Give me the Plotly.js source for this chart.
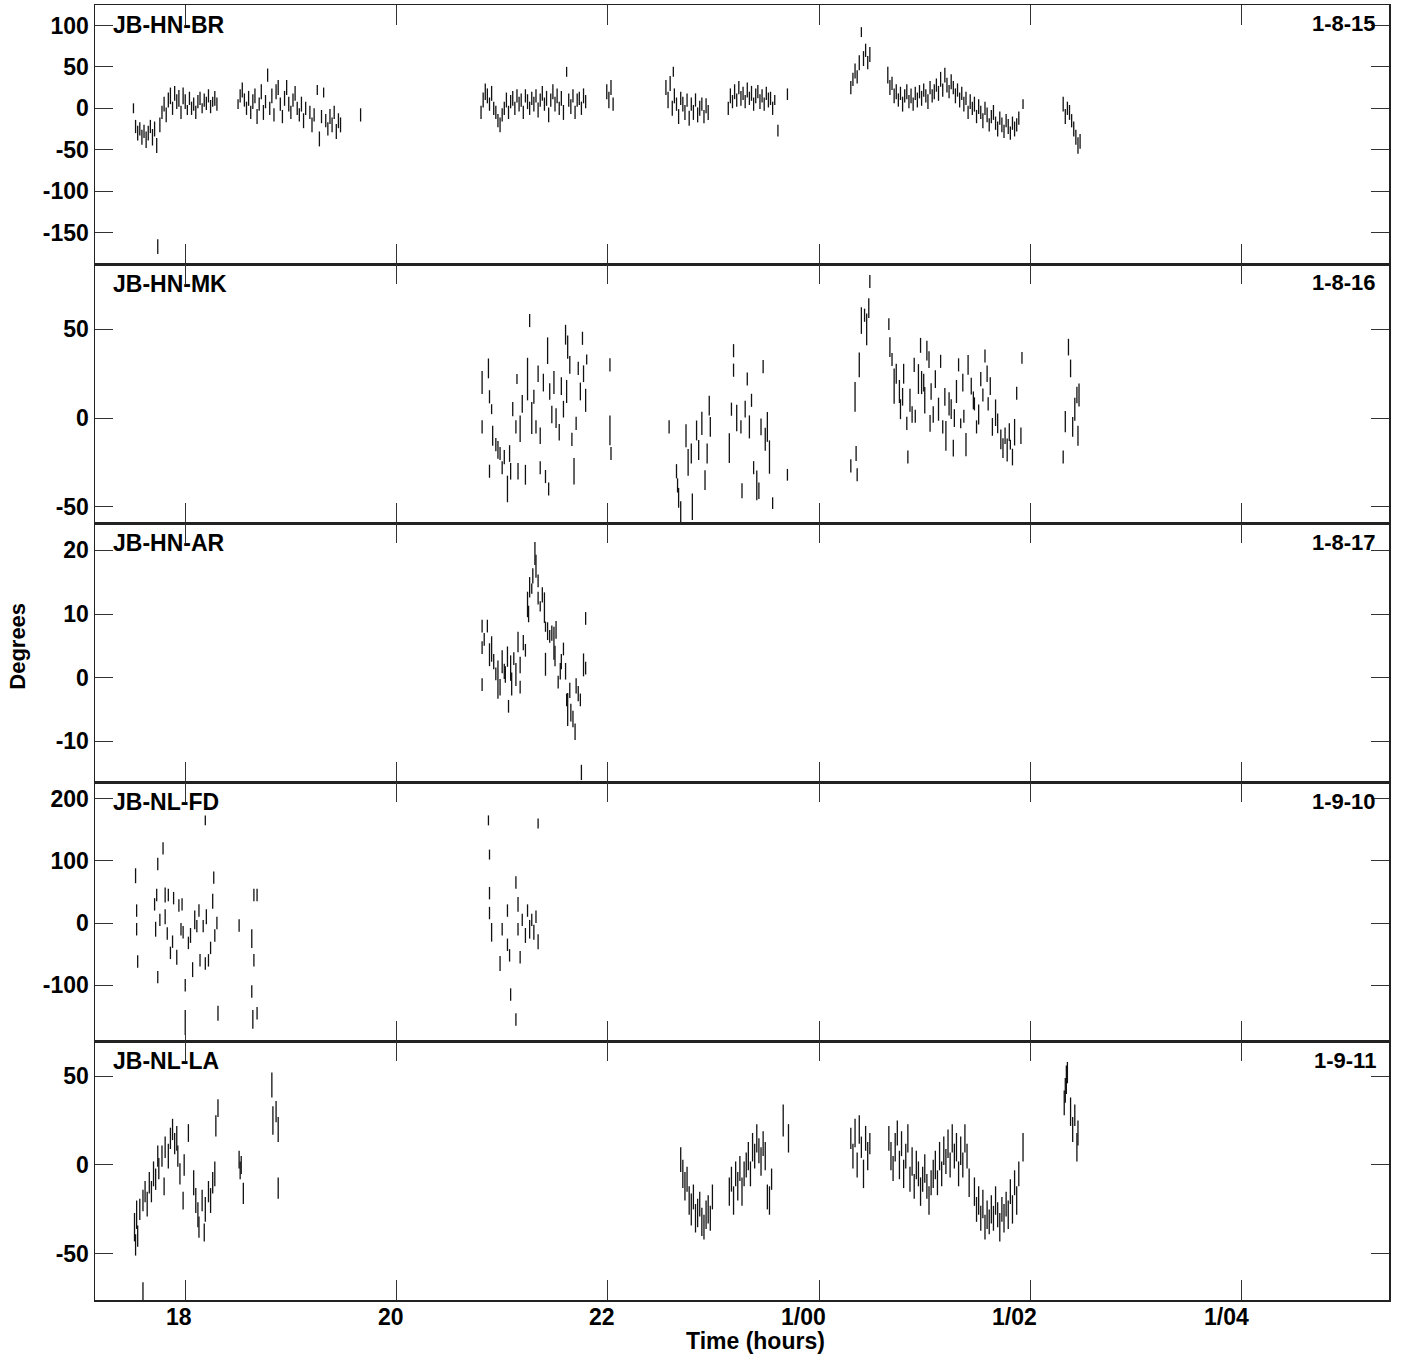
<!DOCTYPE html>
<html>
<head>
<meta charset="utf-8">
<script src="https://cdn.plot.ly/plotly-3.0.1.min.js"></script>
<style>html,body{margin:0;padding:0;background:#fff}#chart{width:1404px;height:1357px}</style>
</head>
<body>
<div id="chart"></div>
<script>
// ---- tick labels / categories ----
const xTickVals = [18, 20, 22, 24, 26, 28];
const xTickText = ['18', '20', '22', '1/00', '1/02', '1/04'];
const yTickVals = [
  [-150, -100, -50, 0, 50, 100],
  [-50, 0, 50],
  [-10, 0, 10, 20],
  [-100, 0, 100, 200],
  [-50, 0, 50]
];
const baselineNames = ['JB-HN-BR', 'JB-HN-MK', 'JB-HN-AR', 'JB-NL-FD', 'JB-NL-LA'];
const baselineIds = ['1-8-15', '1-8-16', '1-8-17', '1-9-10', '1-9-11'];

// ---- JB-HN-BR : time (h), phase (deg), error (deg) ----
const brTime = [
 17.51,17.53,17.55,17.57,17.59,17.61,17.63,17.65,17.67,17.69,17.71,17.73,17.74,17.76,17.78,17.80,17.82,17.84,17.86,17.88,17.90,17.92,17.94,17.96,17.98,18.00,18.02,18.04,18.06,18.08,18.10,18.12,18.14,18.16,18.18,18.20,18.22,18.24,18.26,18.28,18.30,
 18.50,18.52,18.54,18.56,18.58,18.60,18.62,18.64,18.66,18.68,18.70,18.72,18.74,18.76,18.78,18.80,18.82,18.84,18.86,18.88,18.90,18.92,18.94,18.96,18.98,19.00,19.02,19.04,19.06,19.08,19.10,19.12,19.14,
 19.18,19.20,19.22,19.25,19.27,19.29,19.31,19.33,19.35,19.37,19.39,19.41,19.43,19.45,19.47, 19.66,
 20.80,20.82,20.84,20.86,20.88,20.90,20.92,20.94,20.96,20.98,21.00,21.02,21.04,21.06,21.08,21.10,21.12,21.14,21.16,21.18,21.20,21.22,21.24,21.26,21.28,21.30,21.32,21.34,21.36,21.38,21.40,21.42,21.44,21.46,21.48,21.50,21.52,21.54,21.56,21.58,
 21.61, 21.63,21.65,21.67,21.69,21.71,21.73,21.75,21.77,21.79,
 21.99,22.01,22.03,22.05,
 22.55,22.57,22.59,22.61,22.63,22.65,22.67,22.69,22.71,22.73,22.75,22.77,22.79,22.81,22.83,22.85,22.87,22.89,22.91,22.93,22.95, 22.62,
 23.14,23.16,23.18,23.20,23.22,23.24,23.26,23.28,23.30,23.32,23.34,23.36,23.38,23.40,23.42,23.44,23.46,23.48,23.50,23.52,23.54,23.56,23.58, 23.61,23.70,
 24.30,24.32,24.34,24.36,24.38,24.40,24.42,24.44,24.46,24.48,
 24.65,24.67,24.69,24.71,24.73,24.75,24.77,24.79,24.81,24.83,24.85,24.87,24.89,24.91,24.93,24.95,24.97,24.99,25.01,25.03,25.05,25.07,25.09,25.11,25.13,25.15,25.17,25.19,25.21,25.23,25.25,25.27,25.29,25.31,25.33,25.35,25.37,25.39,25.41,25.43,25.45,25.47,25.49,25.51,25.53,25.55,25.57,25.59,25.61,25.63,25.65,25.67,25.69,25.71,25.73,25.75,25.77,25.79,25.81,25.83,25.85,25.87,25.89, 25.93,
 26.31,26.33,26.35,26.37,26.39,26.41,26.43,26.45,26.47
];
const brPhase = [
 0,-22,-30,-25,-35,-28,-38,-30,-22,-35,-25,-45,-167,-20,-5,5,-8,10,15,0,18,8,12,-5,15,8,-2,12,0,5,-5,8,12,0,10,6,15,2,8,12,5,
 5,15,22,10,0,12,-5,8,15,-10,5,20,-5,8,40,0,15,-8,20,25,5,-10,12,25,5,-5,10,18,0,-8,5,-15,0,
 -5,-20,-8,22,-37,-10,19,-15,-25,-10,-20,-5,-28,-15,-20, -8,
 -5,10,20,15,5,18,0,-5,-15,-20,-8,0,10,-5,8,12,0,15,5,10,-5,15,8,0,12,5,15,-2,10,18,5,12,-8,10,20,5,15,0,12,-5,
 44, 10,2,15,-5,10,12,0,15,8,
 20,10,25,5,
 25,10,30,0,15,5,-10,12,5,-5,10,-12,5,-5,10,-8,0,5,-10,3,-5, 44,
 0,15,8,20,10,25,12,18,8,22,12,18,5,15,20,8,15,5,18,10,12,0,10, -27,17,
 25,35,45,38,55,92,60,70,55,65,
 40,25,30,15,20,10,18,5,15,20,8,15,5,18,10,20,12,22,15,8,25,15,20,28,18,35,22,40,28,20,32,25,15,22,10,18,5,12,-5,8,0,5,-10,2,-5,-15,0,-8,-20,-10,-5,-18,-25,-12,-20,-28,-15,-22,-30,-18,-25,-20,-12, 5,
 5,-10,0,-5,-15,-25,-35,-45,-40
];
const brErr = [
 6,8,9,8,9,8,10,9,8,10,9,9,9,9,8,9,9,9,10,8,9,9,10,8,10,9,6,8,8,8,8,8,8,6,8,8,8,8,6,9,8,
 6,8,9,8,8,9,8,9,9,9,8,9,9,8,8,8,9,8,9,9,8,8,9,9,9,8,8,9,8,8,9,9,8,
 8,9,8,6,9,8,6,8,8,9,9,8,9,9,9, 8,
 8,9,10,9,8,9,8,8,8,9,8,8,9,8,8,9,8,8,9,8,8,8,9,8,8,9,8,9,8,9,8,9,9,8,9,9,9,8,9,9,
 6, 8,9,8,8,8,8,8,9,8,
 9,10,9,8,
 9,10,9,9,9,8,9,8,9,9,8,9,8,9,8,9,9,8,8,9,9, 6,
 8,9,8,9,8,8,9,8,8,9,8,9,8,9,8,9,8,8,8,9,8,8,6, 7,7,
 8,8,9,8,9,6,9,8,8,9,
 10,9,8,9,9,8,8,9,8,9,8,9,8,8,9,8,9,8,8,9,8,8,9,8,9,9,8,9,9,8,9,8,9,8,9,8,9,8,8,9,8,9,8,9,8,9,8,9,8,8,9,8,9,8,9,8,8,9,8,8,9,8,8, 6,
 9,9,8,9,8,9,9,10,9
];

// ---- JB-HN-MK ----
const mkTime = [
 20.81,20.81,20.87,20.88,20.88,20.90,20.91,20.94,20.96,20.98,21.00,21.02,21.05,21.07,21.08,21.10,21.13,21.14,21.15,21.17,21.19,21.22,21.24,21.26,21.28,21.30,21.32,21.34,21.36,21.36,21.39,21.41,21.43,21.44,21.45,21.47,21.49,21.51,21.54,21.56,21.58,21.60,21.61,21.62,21.64,21.66,21.68,21.70,21.72,21.74,21.76,21.77,21.79,21.80,
 22.02,22.02,22.03, 22.58,
 22.65,22.66,22.67,22.69,22.74,22.76,22.79,22.80,22.84,22.86,22.89,22.92,22.94,22.96,22.97,
 23.15,23.17,23.19,23.19,23.22,23.26,23.27,23.30,23.32,23.34,23.36,23.38,23.41,23.43,23.45,23.47,23.49,23.51,23.53,23.56,23.70,
 24.30,24.34,24.35,24.36,24.38,24.40,24.43,24.45,24.47,24.48,
 24.66,24.67,24.69,24.71,24.73,24.76,24.77,24.79,24.80,24.83,24.84,24.86,24.88,24.90,24.91,24.94,24.96,24.97,24.99,25.00,25.02,25.04,25.05,25.06,25.08,25.10,25.13,25.15,25.17,25.19,25.20,25.23,25.25,25.27,25.28,25.30,25.32,25.34,25.36,25.37,25.39,25.41,25.44,25.46,25.47,25.49,25.51,25.53,25.55,25.57,25.59,25.60,25.62,25.64,25.67,25.69,25.72,25.74,25.76,25.78,25.80,25.81,25.83,25.85,25.87,25.91,25.92,
 26.31,26.33,26.36,26.38,26.40,26.42,26.44,26.45,26.46
];
const mkPhase = [
 20,-5,28,12,-30,5,-10,-15,-18,-20,-28,-22,-40,-20,-30,5,-5,22,-30,-6,8,-32,22,55,0,12,-5,25,-28,-10,20,-33,38,-40,15,2,20,0,-8,18,5,47,15,40,30,-12,-30,-3,28,15,45,25,10,33,
 30,-7,-20, -5,
 -30,-38,-45,-55,-10,-25,-20,-50,-7,-18,-3,-35,-20,7,-5,
 -17,5,38,27,0,-5,-41,5,22,-5,10,-28,-38,-41,-5,29,-12,-5,-22,-48,-32,
 -27,12,-20,-32,30,55,58,50,62,77,
 53,40,33,18,25,15,5,12,25,-3,-22,10,2,30,1,22,41,20,20,10,38,33,-3,15,2,22,5,32,-5,12,-10,8,5,-17,0,15,30,-3,20,1,-15,30,18,10,8,-5,2,22,13,35,25,8,18,-5,3,-3,-12,-17,-10,-18,-8,-15,-22,-8,14,-10,34,
 -22,-2,40,28,-5,5,13,-10,13
];
const mkErr = [
 6.5,3.7,5.6,3.7,3.7,2.8,5.6,3.7,5,3.7,3.7,4,7.5,4.7,4.7,4,3.7,2.8,4.7,7.5,5,5.6,12,3.7,9,4,3.7,4.7,3.7,4.7,5,3.7,7.5,3.7,4.7,5,6.5,5.6,4.7,5,4.7,5.6,6.5,6.5,5,3.7,7.5,3.7,3.7,5,3.7,4.7,6.5,2.8,
 3.7,8.4,3.7, 3.7,
 4,4,5.6,8,6.5,7.5,5.6,7.5,5.6,5.6,6.5,5.6,5.6,5.6,5.6,
 8.4,3.7,3.7,3.7,7.5,3.7,4.2,4.7,3.7,6.5,3.7,3.7,8.4,4.7,4.7,3.7,6.5,8.4,9.4,3.3,3.3,
 3.7,8.4,4.2,3.7,7,7.5,3.7,9,5.6,3.7,
 3.3,5.6,3.7,10,5.6,6.5,5.6,5,5.6,3.7,3.7,6.5,4.7,4,3.7,8.4,4.2,6.5,5,7.5,5.6,4.7,4.7,4.7,4.7,5,6.5,3.7,3.7,5,8.4,6.5,5.6,4.7,5,6.5,3.7,2.8,5,3.7,6.5,5.6,4.7,5,3.7,3.7,5.6,4,3.7,3.7,4.7,3.7,5,5,7.5,5.6,5.6,5.6,4.7,6.5,5,2.8,4.7,7.5,3.7,4.7,3.3,
 3.7,6,4.7,5,5.6,6.5,4.7,5.6,6.5
];

// ---- JB-HN-AR ----
const arTime = [
 20.81,20.81,20.81,20.83,20.86,20.88,20.90,20.92,20.94,20.96,20.98,21.00,21.02,21.03,21.05,21.06,21.08,21.09,21.11,21.13,21.15,21.17,21.17,21.20,21.22,21.24,21.25,21.26,21.28,21.29,21.31,21.32,21.34,21.34,21.36,21.38,21.40,21.41,21.41,21.43,21.45,21.47,21.49,21.50,21.51,21.53,21.55,21.56,21.58,21.60,21.61,21.62,21.64,21.65,21.67,21.69,21.70,21.72,21.74,21.75,21.77,21.79,21.79
];
const arPhase = [
 8.1,4.7,-1.1,6,8.1,3.6,4.5,2.5,0.6,-0.3,-1.5,2.5,1,0.5,3.3,-4.5,1.5,-1,3,0.5,5.6,-1.5,2,5.5,4.3,11.5,10,14.2,14,16,19.5,17.5,15.2,12.5,11.2,13,11,2.1,8,7.3,6.5,7,5.4,3.4,7.5,-0.7,1,2.5,4.5,1,-3.5,-5,-2,-5.5,-6.5,-8.5,-1.3,-2.5,-3.5,-14.9,2,9.3,1.5
];
const arErr = [
 1,1,1,1,1,1.8,2,1.2,1,3,1.3,1.8,1.2,1.3,1.6,1,2,1.8,1,1.8,1.6,1,1.3,1.2,1,2,1.3,1.6,0.8,1.2,1.8,1.8,1,1,0.8,1.2,2.4,1.8,0.8,1.4,1,1.2,2.6,1.6,1.4,1,1.3,1.2,1,1.3,1,2.6,1.2,1.4,1.3,1.3,1.2,1.2,1,1.2,1.8,1,1
];

// ---- JB-NL-FD ----
const fdTime = [
 17.53,17.54,17.54,17.55,17.71,17.72,17.73,17.74,17.74,17.76,17.79,17.81,17.81,17.83,17.84,17.86,17.88,17.89,17.92,17.94,17.96,17.97,17.98,18.00,18.00,18.03,18.05,18.07,18.09,18.11,18.13,18.14,18.17,18.19,18.19,18.20,18.22,18.24,18.26,18.27,18.28,18.30,18.31,
 18.51,18.63,18.63,18.64,18.65,18.65,18.68,18.68,
 20.87,20.88,20.88,20.88,20.90,20.98,21.00,21.05,21.05,21.07,21.08,21.13,21.13,21.15,21.15,21.17,21.19,21.22,21.24,21.26,21.28,21.30,21.32,21.34,21.34
];
const fdPhase = [
 76,20,-10,-62,30,-10,45,95,-87,5,120,45,10,-17,45,-48,-30,40,-55,28,-10,30,-15,-100,-160,-32,-20,-75,5,-5,20,-60,-5,-65,165,10,-60,-40,35,73,-20,0,-145,
 -4,-25,-110,-155,45,-60,45,-145,
 165,110,48,16,-15,-65,-10,20,-35,-52,-115,65,-155,30,-10,-55,5,-20,20,-10,5,-15,10,160,-30
];
const fdErr = [
 12,10,10,10,10,12,10,10,10,10,10,12,12,10,10,10,10,10,12,10,10,10,10,10,20,10,12,12,15,10,10,10,10,10,8,12,10,10,12,10,10,10,12,
 10,15,10,15,10,10,10,10,
 8,8,10,10,15,12,10,10,10,10,10,10,10,12,10,10,10,12,10,15,10,12,10,8,12
];

// ---- JB-NL-LA ----
const laTime = [
 17.52,17.53,17.54,17.55,17.57,17.60,17.60,17.62,17.64,17.66,17.68,17.70,17.72,17.74,17.75,17.78,17.80,17.81,17.84,17.86,17.88,17.90,17.92,17.93,17.95,17.98,17.99,18.03,18.08,18.10,18.12,18.13,18.16,18.18,18.19,18.22,18.24,18.26,18.28,18.29,18.31,
 18.51,18.52,18.53,18.55,
 18.82,18.83,18.86,18.88,18.88,
 22.69,22.71,22.73,22.75,22.77,22.79,22.81,22.83,22.85,22.87,22.89,22.91,22.93,22.95,22.97,22.99,
 23.15,23.17,23.19,23.21,23.23,23.25,23.27,23.29,23.31,23.33,23.35,23.37,23.39,23.41,23.43,23.45,23.47,23.49,23.51,23.53,23.55, 23.66,23.71,
 24.30,24.32,24.34,24.36,24.38,24.40,24.42,24.44,24.46,24.48,
 24.66,24.68,24.70,24.72,24.74,24.76,24.78,24.80,24.82,24.84,24.86,24.88,24.90,24.92,24.94,24.96,24.98,25.00,25.02,25.04,25.06,25.08,
 25.10,25.12,25.14,25.16,25.18,25.20,25.22,25.24,25.26,25.28,25.30,25.32,25.34,25.36,25.38,25.40,25.42,
 25.47,25.49,25.51,25.53,25.55,25.57,25.59,25.61,25.63,25.65,25.67,25.69,25.71,25.73,25.75,25.77,25.79,25.81,25.83,25.85,25.87,25.89,25.93,
 26.32,26.33,26.34,26.35,26.38,26.40,26.42,26.44,26.45
];
const laPhase = [
 -35,-45,-28,-40,-25,-20,-72,-15,-22,-10,-15,-5,-8,5,-2,5,-12,10,5,15,20,12,15,5,-5,-20,0,18,-10,-20,-28,-35,-20,-38,-25,-15,-20,-10,-5,22,32,
 3,-3,0,-16,
 45,25,30,20,-13,
 3,-5,-12,-8,-20,-25,-18,-30,-27,-22,-32,-35,-28,-25,-30,-18,
 -15,-8,-20,-5,-12,-2,-15,-5,0,5,-5,10,5,15,8,2,12,5,-18,-20,-8, 25,15,
 15,5,18,0,20,10,-5,15,5,12,
 15,5,-2,10,18,0,12,-5,5,15,-8,2,-12,0,-5,-15,-8,-2,-12,-20,-10,-5,
 0,-10,5,-5,8,2,12,0,15,5,10,-5,8,0,15,5,-10,
 -15,-25,-20,-30,-22,-35,-28,-32,-25,-30,-20,-28,-35,-25,-30,-22,-28,-15,-25,-10,-20,-5,10,
 35,42,48,52,30,20,28,10,18
];
const laErr = [
 8,6,8,6,6,6,6,6,7,6,6,7,6,6,6,6,5,6,7,6,6,6,7,6,6,5,6,5,7,7,7,6,6,5,7,6,7,6,7,6,5,
 5,5,5,6,
 7,8,6,7,6,
 7,8,8,7,8,9,7,8,8,7,8,7,8,8,7,7,
 8,7,8,7,8,7,8,7,7,8,7,8,7,8,7,8,7,8,7,8,6, 9,8,
 6,7,8,7,8,6,8,7,8,6,
 7,8,7,8,7,8,7,8,7,8,7,8,7,8,7,8,7,8,7,8,7,8,
 8,7,8,7,8,7,8,7,8,7,8,7,8,7,8,7,8,
 8,7,8,7,8,7,8,7,8,7,8,7,8,7,8,7,8,7,8,7,8,7,8,
 7,7,8,6,8,7,6,8,7
];

// ---- build ----
const series = [
  {t: brTime, v: brPhase, e: brErr},
  {t: mkTime, v: mkPhase, e: mkErr},
  {t: arTime, v: arPhase, e: arErr},
  {t: fdTime, v: fdPhase, e: fdErr},
  {t: laTime, v: laPhase, e: laErr}
];
const yRanges = [[-188, 124.7], [-59.2, 86.9], [-16.4, 24.3], [-189.7, 226.7], [-76, 69.8]];
const xRange = [17.146, 29.394];

const FONT = 'Liberation Sans, Arial, Helvetica, sans-serif';
const axId = i => (i === 0 ? '' : String(i + 1));

const traces = series.map((s, i) => ({
  type: 'scatter', mode: 'markers',
  x: s.t, y: s.v,
  xaxis: 'x' + axId(i), yaxis: 'y' + axId(i),
  marker: {size: 1, color: 'rgba(0,0,0,0)'},
  error_y: {type: 'data', array: s.e, visible: true, width: 0, thickness: 1.3, color: '#111'},
  hoverinfo: 'skip', showlegend: false
}));

const layout = {
  width: 1404, height: 1357,
  margin: {l: 95, r: 15, t: 5, b: 57},
  paper_bgcolor: '#fff', plot_bgcolor: '#fff',
  showlegend: false,
  font: {family: FONT, size: 22, color: '#000'},
  annotations: []
};

for (let i = 0; i < 5; i++) {
  const id = axId(i);
  layout['xaxis' + id] = {
    range: xRange, tickvals: xTickVals,
    ticks: 'inside', ticklen: 20, tickwidth: 1, tickcolor: '#333',
    showline: true, linecolor: '#222', linewidth: 1.5, mirror: 'ticks',
    showgrid: false, zeroline: false, fixedrange: true,
    showticklabels: false,
    anchor: 'y' + id
  };
  layout['yaxis' + id] = {
    domain: [1 - (i + 1) / 5, 1 - i / 5],
    range: yRanges[i], tickvals: yTickVals[i], ticktext: yTickVals[i].map(v => String(v)),
    ticks: 'inside', ticklen: 18, tickwidth: 1, tickcolor: '#333',
    showline: true, linecolor: '#222', linewidth: 1.5, mirror: 'ticks',
    showgrid: false, zeroline: false, fixedrange: true,
    tickfont: {family: FONT, size: 23, color: '#000', weight: 'bold'},
    anchor: 'x' + id
  };
  layout.annotations.push({
    text: '<b>' + baselineNames[i] + '</b>', xref: 'paper', yref: 'y' + id + ' domain',
    x: 0.0125, y: 1 - 20 / 259, xanchor: 'left', yanchor: 'middle', showarrow: false,
    font: {family: FONT, size: 23, color: '#000'}
  });
  layout.annotations.push({
    text: '<b>' + baselineIds[i] + '</b>', xref: 'paper', yref: 'y' + id + ' domain',
    x: 0.9915, y: 1 - 19 / 259, xanchor: 'right', yanchor: 'middle', showarrow: false,
    font: {family: FONT, size: 22, color: '#000'}
  });
}
// x tick labels (AIPS style: right-aligned just past the tick)
xTickVals.forEach((v, k) => {
  layout.annotations.push({
    text: '<b>' + xTickText[k] + '</b>', xref: 'x5', yref: 'paper', x: v, y: -0.0135,
    xanchor: 'right', yanchor: 'middle', xshift: 9, showarrow: false,
    font: {family: FONT, size: 23, color: '#000'}
  });
});
layout.annotations.push({
  text: '<b>Degrees</b>', xref: 'paper', yref: 'paper', x: -0.0605, y: 0.505,
  xanchor: 'center', yanchor: 'middle', textangle: -90, showarrow: false,
  font: {family: FONT, size: 22, color: '#000'}
});
layout.annotations.push({
  text: '<b>Time (hours)</b>', xref: 'paper', yref: 'paper', x: 0.5104, y: -0.032,
  xanchor: 'center', yanchor: 'middle', showarrow: false,
  font: {family: FONT, size: 23, color: '#000'}
});

Plotly.newPlot('chart', traces, layout, {staticPlot: true, displayModeBar: false});
</script>
</body>
</html>
